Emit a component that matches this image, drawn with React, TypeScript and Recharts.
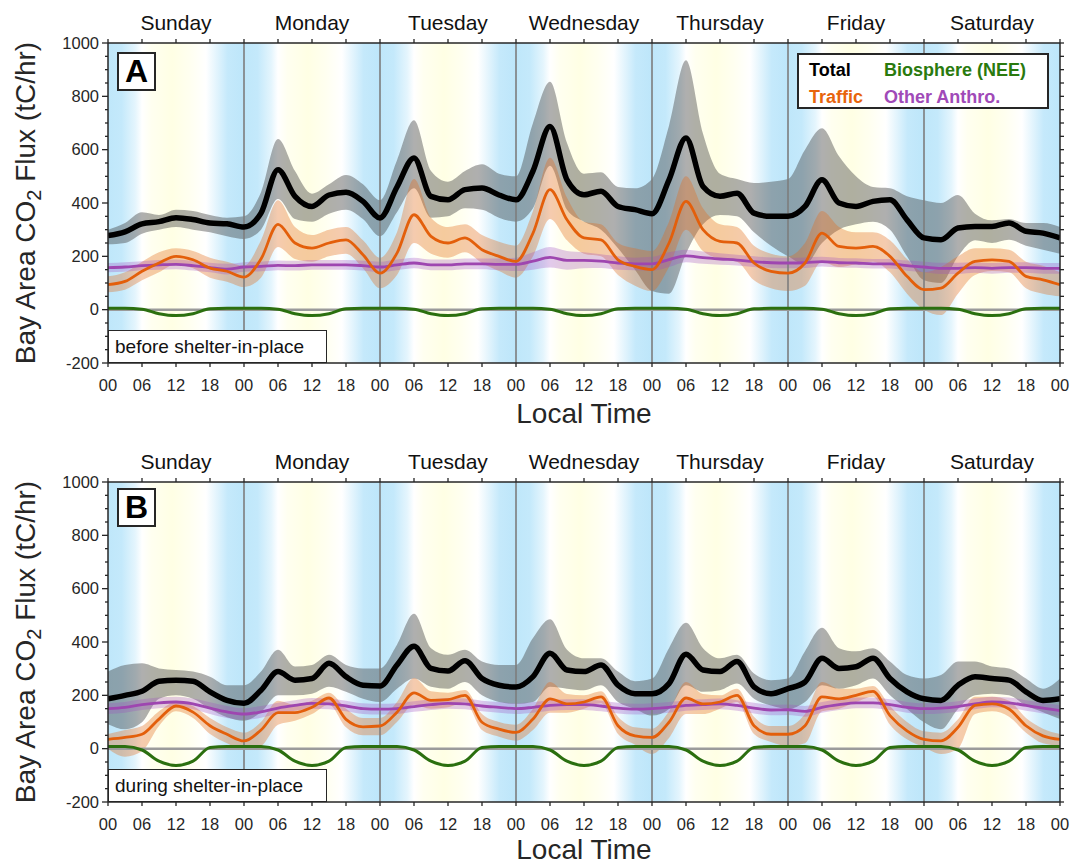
import React from 'react';
import { ComposedChart, Area, Line, XAxis, YAxis, ReferenceArea, ReferenceLine } from 'recharts';

// hours since Sunday 00 local time, every 3 h
const HOURS = [
  0, 3, 6, 9, 12, 15, 18, 21, 24, 27, 30, 33, 36, 39, 42, 45, 48, 51, 54, 57, 60, 63, 66, 69,
  72, 75, 78, 81, 84, 87, 90, 93, 96, 99, 102, 105, 108, 111, 114, 117, 120, 123, 126, 129,
  132, 135, 138, 141, 144, 147, 150, 153, 156, 159, 162, 165, 168,
];
const DAYS = ['Sunday', 'Monday', 'Tuesday', 'Wednesday', 'Thursday', 'Friday', 'Saturday'];
const DAY_BREAKS = [24, 48, 72, 96, 120, 144];
const X_TICKS = [
  0, 6, 12, 18, 24, 30, 36, 42, 48, 54, 60, 66, 72, 78, 84, 90, 96, 102, 108, 114, 120, 126,
  132, 138, 144, 150, 156, 162, 168,
];
const Y_TICKS = [
  -200, -150, -100, -50, 0, 50, 100, 150, 200, 250, 300, 350, 400, 450, 500, 550, 600, 650,
  700, 750, 800, 850, 900, 950, 1000,
];

// Panel A: before shelter-in-place (tC/hr)
const A_TOTAL = [278, 292, 322, 330, 345, 338, 325, 322, 310, 362, 525, 425, 387, 430, 440, 406, 344, 460, 569, 425, 412, 450, 456, 430, 412, 520, 687, 487, 431, 444, 387, 375, 360, 487, 644, 462, 425, 437, 362, 350, 350, 387, 487, 400, 387, 406, 412, 337, 269, 262, 306, 312, 312, 325, 294, 287, 269];
const A_TOTAL_HI = [300, 325, 365, 355, 375, 370, 355, 345, 350, 440, 640, 520, 435, 470, 505, 470, 410, 560, 710, 520, 480, 520, 545, 510, 500, 700, 855, 625, 510, 515, 460, 455, 490, 690, 935, 660, 510, 490, 475, 480, 490, 600, 680, 575, 500, 460, 455, 425, 410, 400, 430, 360, 335, 340, 325, 325, 310];
const A_TOTAL_LO = [245, 250, 285, 300, 310, 300, 290, 275, 265, 300, 415, 340, 330, 360, 375, 340, 275, 365, 455, 345, 350, 380, 375, 345, 330, 380, 540, 375, 330, 300, 230, 150, 70, 60, 210, 320, 355, 350, 290, 240, 200, 170, 250, 300, 320, 330, 300, 200, 110, 100, 200, 260, 250, 262, 240, 225, 210];
const A_TRAFFIC = [94, 106, 144, 175, 200, 187, 156, 144, 122, 190, 320, 250, 231, 250, 262, 206, 137, 212, 356, 275, 250, 269, 225, 200, 181, 287, 450, 337, 269, 262, 187, 162, 150, 250, 406, 300, 256, 250, 175, 144, 137, 175, 287, 237, 231, 237, 200, 125, 75, 81, 137, 181, 187, 181, 125, 112, 94];
const A_TRAFFIC_HI = [125, 140, 180, 215, 230, 220, 195, 180, 165, 260, 410, 310, 280, 300, 310, 260, 195, 290, 490, 345, 310, 320, 280, 255, 240, 370, 570, 420, 330, 320, 250, 230, 220, 330, 500, 380, 320, 310, 240, 210, 200, 250, 370, 310, 290, 290, 260, 190, 140, 160, 200, 230, 230, 225, 180, 165, 140];
const A_TRAFFIC_LO = [65, 75, 110, 140, 170, 155, 120, 105, 85, 120, 235, 190, 180, 200, 210, 155, 80, 130, 250, 210, 195, 215, 175, 145, 120, 200, 340, 260, 210, 200, 130, 90, 70, 160, 300, 220, 190, 180, 110, 80, 70, 90, 180, 160, 170, 180, 140, 60, 0, -20, 60, 130, 145, 140, 80, 60, 50];
const A_OTHER = [158, 160, 165, 168, 170, 165, 158, 152, 160, 162, 166, 165, 168, 168, 168, 165, 160, 168, 175, 168, 168, 172, 172, 170, 170, 182, 196, 185, 185, 182, 175, 172, 172, 188, 202, 195, 190, 186, 180, 176, 175, 176, 180, 176, 175, 172, 172, 165, 160, 155, 155, 158, 155, 158, 158, 155, 155];
const A_OTHER_HI = [175, 178, 182, 186, 188, 183, 176, 172, 178, 180, 184, 183, 186, 186, 186, 183, 180, 188, 195, 188, 188, 192, 192, 192, 195, 215, 235, 220, 215, 208, 200, 195, 198, 215, 225, 218, 212, 206, 200, 196, 195, 196, 198, 194, 193, 190, 190, 184, 180, 176, 176, 178, 175, 178, 178, 175, 175];
const A_OTHER_LO = [140, 142, 148, 150, 152, 147, 140, 132, 142, 144, 148, 147, 150, 150, 150, 147, 140, 148, 155, 148, 148, 152, 152, 148, 145, 150, 158, 150, 155, 156, 150, 148, 146, 160, 178, 172, 168, 166, 160, 156, 155, 156, 162, 158, 157, 154, 154, 146, 140, 134, 134, 138, 135, 138, 138, 135, 135];
const A_BIO = [5, 5, 2, -15, -22, -15, 3, 5, 5, 5, 2, -15, -22, -15, 3, 5, 5, 5, 2, -15, -22, -15, 3, 5, 5, 5, 2, -15, -22, -15, 3, 5, 5, 5, 2, -15, -22, -15, 3, 5, 5, 5, 2, -15, -22, -15, 3, 5, 5, 5, 2, -15, -22, -15, 3, 5, 5];

// Panel B: during shelter-in-place
const B_TOTAL = [187, 200, 215, 253, 257, 253, 213, 181, 170, 219, 289, 257, 263, 320, 270, 238, 235, 314, 384, 301, 291, 330, 263, 238, 231, 270, 358, 295, 289, 314, 238, 206, 206, 244, 354, 295, 289, 327, 232, 206, 225, 250, 339, 301, 307, 339, 263, 213, 187, 181, 238, 270, 263, 257, 213, 181, 187];
const B_TOTAL_HI = [289, 314, 320, 301, 295, 289, 270, 238, 238, 289, 371, 308, 314, 352, 314, 301, 301, 390, 506, 377, 352, 371, 327, 314, 314, 415, 485, 371, 339, 339, 289, 253, 263, 377, 472, 377, 339, 352, 282, 257, 263, 365, 453, 377, 365, 377, 327, 276, 263, 276, 327, 327, 308, 301, 263, 225, 263];
const B_TOTAL_LO = [92, 73, 99, 187, 200, 187, 149, 118, 105, 137, 200, 200, 206, 232, 213, 187, 175, 225, 263, 232, 225, 250, 200, 175, 168, 175, 232, 225, 219, 238, 175, 149, 124, 149, 238, 213, 219, 244, 187, 162, 149, 175, 238, 225, 238, 263, 200, 149, 99, 73, 149, 200, 206, 200, 162, 137, 111];
const B_TRAFFIC = [35, 42, 54, 111, 160, 137, 86, 54, 29, 70, 135, 135, 155, 190, 110, 82, 85, 137, 209, 181, 184, 200, 99, 73, 61, 111, 187, 168, 175, 194, 86, 48, 42, 99, 190, 168, 175, 200, 86, 54, 54, 86, 194, 187, 200, 215, 124, 67, 35, 29, 80, 162, 168, 149, 86, 48, 35];
const B_TRAFFIC_HI = [55, 70, 85, 140, 175, 160, 115, 80, 60, 100, 180, 165, 180, 210, 150, 115, 115, 175, 265, 215, 210, 220, 130, 100, 90, 150, 250, 205, 200, 215, 120, 80, 75, 140, 250, 205, 200, 225, 120, 85, 85, 130, 250, 225, 225, 235, 160, 100, 65, 60, 110, 195, 195, 180, 115, 75, 55];
const B_TRAFFIC_LO = [0, -30, -10, 85, 140, 115, 55, 20, -5, 10, 90, 105, 130, 165, 80, 50, 50, 100, 165, 150, 155, 175, 70, 45, 30, 70, 135, 135, 150, 170, 55, 15, -20, 40, 130, 130, 150, 175, 55, 25, 10, 20, 140, 150, 175, 195, 90, 35, 5, -20, 0, 130, 140, 120, 60, 20, 10];
const B_OTHER = [150, 155, 165, 172, 175, 168, 152, 138, 130, 138, 152, 162, 170, 168, 160, 150, 148, 150, 158, 165, 170, 168, 160, 155, 150, 155, 162, 165, 165, 160, 152, 148, 150, 155, 162, 165, 168, 162, 152, 145, 146, 140, 155, 165, 172, 172, 165, 155, 150, 152, 158, 168, 175, 172, 162, 152, 143];
const B_OTHER_HI = [170, 175, 185, 192, 195, 188, 174, 160, 152, 160, 172, 182, 190, 188, 180, 170, 168, 170, 178, 185, 190, 188, 180, 175, 170, 175, 182, 185, 185, 180, 172, 168, 170, 175, 182, 185, 188, 182, 172, 165, 166, 160, 175, 185, 192, 192, 185, 175, 170, 172, 178, 188, 195, 192, 182, 172, 163];
const B_OTHER_LO = [130, 135, 145, 152, 155, 148, 130, 115, 108, 116, 132, 142, 150, 148, 140, 130, 128, 130, 138, 145, 150, 148, 140, 135, 130, 135, 142, 145, 145, 140, 132, 128, 130, 135, 142, 145, 148, 142, 132, 125, 126, 120, 135, 145, 152, 152, 145, 135, 130, 132, 138, 148, 155, 152, 142, 132, 123];
const B_BIO = [8, 8, -5, -47, -63, -47, 4, 8, 8, 8, -5, -47, -63, -47, 4, 8, 8, 8, -5, -47, -63, -47, 4, 8, 8, 8, -5, -47, -63, -47, 4, 8, 8, 8, -5, -47, -63, -47, 4, 8, 8, 8, -5, -47, -63, -47, 4, 8, 8, 8, -5, -47, -63, -47, 4, 8, 8];

// day/night shading inside each day
const BG_STOPS = [
  { o: 0, c: '#bfe7fa' },
  { o: 0.1, c: '#c4e9fb' },
  { o: 0.2, c: '#e4f5fd' },
  { o: 0.25, c: '#ffffff' },
  { o: 0.32, c: '#fffff0' },
  { o: 0.47, c: '#ffffe4' },
  { o: 0.6, c: '#fffff0' },
  { o: 0.72, c: '#ffffff' },
  { o: 0.8, c: '#e2f4fd' },
  { o: 0.88, c: '#c5e9fb' },
  { o: 1, c: '#bde6fa' },
];

const FONT = '"Liberation Sans", Arial, Helvetica, sans-serif';
const AXIS = '#262626';
const PLOT_LEFT = 108;
const PLOT_RIGHT = 1060;

const buildRows = (
  total: number[], totalLo: number[], totalHi: number[],
  traffic: number[], trafficLo: number[], trafficHi: number[],
  other: number[], otherLo: number[], otherHi: number[],
  bio: number[]
) =>
  HOURS.map((h, i) => ({
    h,
    total: total[i],
    totalBand: [totalLo[i], totalHi[i]],
    traffic: traffic[i],
    trafficBand: [trafficLo[i], trafficHi[i]],
    other: other[i],
    otherBand: [otherLo[i], otherHi[i]],
    bio: bio[i],
  }));

const rowsA = buildRows(A_TOTAL, A_TOTAL_LO, A_TOTAL_HI, A_TRAFFIC, A_TRAFFIC_LO, A_TRAFFIC_HI, A_OTHER, A_OTHER_LO, A_OTHER_HI, A_BIO);
const rowsB = buildRows(B_TOTAL, B_TOTAL_LO, B_TOTAL_HI, B_TRAFFIC, B_TRAFFIC_LO, B_TRAFFIC_HI, B_OTHER, B_OTHER_LO, B_OTHER_HI, B_BIO);

// major ticks with labels every 200, minor ticks every 50
const LeftTick = (props: any) => {
  const { y, payload } = props;
  const v = payload.value;
  const major = v % 200 === 0;
  return (
    <g>
      <line x1={PLOT_LEFT - (major ? 6 : 3)} x2={PLOT_LEFT} y1={y} y2={y} stroke={AXIS} strokeWidth={1.3} />
      {major && (
        <text x={PLOT_LEFT - 9} y={y} dy="0.35em" textAnchor="end" fontSize={16.5} fill={AXIS} fontFamily={FONT}>
          {v}
        </text>
      )}
    </g>
  );
};

const RightTick = (props: any) => (
  <line x1={PLOT_RIGHT} x2={PLOT_RIGHT + 4} y1={props.y} y2={props.y} stroke={AXIS} strokeWidth={1.3} />
);

const hourLabel = (h: number) => String(h % 24).padStart(2, '0');
const dayLabel = (h: number) => (h % 24 === 12 ? DAYS[Math.floor(h / 24)] : '');

interface PanelProps {
  id: string;
  rows: any[];
  height: number;
  labelTop: number;
  titleTop: number;
  note: string;
  legend?: boolean;
}

const Panel: React.FC<PanelProps> = ({ id, rows, height, labelTop, titleTop, note, legend }) => {
  return (
    <div style={{ position: 'relative', width: 1070, height }}>
      <ComposedChart
        width={1070}
        height={height}
        data={rows}
        margin={{ top: 13, right: 0, bottom: height - 363 - 30, left: 48 }}
      >
        <defs>
          <linearGradient id={`bg${id}`} x1="0" y1="0" x2="1" y2="0">
            {BG_STOPS.map((s) => (
              <stop key={s.o} offset={s.o} stopColor={s.c} />
            ))}
          </linearGradient>
        </defs>
        <XAxis
          xAxisId="top"
          orientation="top"
          dataKey="h"
          type="number"
          domain={[0, 168]}
          allowDataOverflow
          ticks={X_TICKS}
          interval={0}
          tickFormatter={dayLabel}
          height={30}
          tickSize={4}
          tickMargin={9}
          axisLine={{ stroke: AXIS, strokeWidth: 1.5 }}
          tickLine={{ stroke: AXIS, strokeWidth: 1.3 }}
          tick={{ fill: '#111', fontSize: 21, fontFamily: FONT }}
        />
        <XAxis
          dataKey="h"
          type="number"
          domain={[0, 168]}
          allowDataOverflow
          ticks={X_TICKS}
          interval={0}
          tickFormatter={hourLabel}
          height={30}
          tickSize={4}
          tickMargin={12}
          axisLine={{ stroke: AXIS, strokeWidth: 1.5 }}
          tickLine={{ stroke: AXIS, strokeWidth: 1.3 }}
          tick={{ fill: AXIS, fontSize: 16.5, fontFamily: FONT }}
        />
        <YAxis
          type="number"
          domain={[-200, 1000]}
          allowDataOverflow
          ticks={Y_TICKS}
          interval={0}
          width={60}
          tickLine={false}
          axisLine={{ stroke: AXIS, strokeWidth: 1.5 }}
          tick={<LeftTick />}
        />
        <YAxis
          yAxisId="right"
          orientation="right"
          type="number"
          domain={[-200, 1000]}
          allowDataOverflow
          ticks={Y_TICKS}
          interval={0}
          width={10}
          tickLine={false}
          tick={<RightTick />}
          axisLine={{ stroke: AXIS, strokeWidth: 1.5 }}
        />
        {DAYS.map((d, i) => (
          <ReferenceArea
            key={d}
            x1={i * 24}
            x2={i * 24 + 24}
            y1={-200}
            y2={1000}
            fill={`url(#bg${id})`}
            fillOpacity={1}
            stroke="none"
          />
        ))}
        {DAY_BREAKS.map((x) => (
          <ReferenceLine key={x} x={x} stroke="#7d7d7d" strokeWidth={1.6} />
        ))}
        <ReferenceLine y={0} stroke="#9b9b9b" strokeWidth={2.5} />
        <Area type="monotone" dataKey="totalBand" stroke="none" fill="#404040" fillOpacity={0.42} isAnimationActive={false} activeDot={false} />
        <Area type="monotone" dataKey="trafficBand" stroke="none" fill="#e36a1a" fillOpacity={0.35} isAnimationActive={false} activeDot={false} />
        <Area type="monotone" dataKey="otherBand" stroke="none" fill="#a050c0" fillOpacity={0.3} isAnimationActive={false} activeDot={false} />
        <Line type="monotone" dataKey="bio" stroke="#2b6f0f" strokeWidth={3} dot={false} isAnimationActive={false} />
        <Line type="monotone" dataKey="other" stroke="#9e46b0" strokeWidth={2.8} dot={false} isAnimationActive={false} />
        <Line type="monotone" dataKey="traffic" stroke="#e35f0b" strokeWidth={2.8} dot={false} isAnimationActive={false} />
        <Line type="monotone" dataKey="total" stroke="#000000" strokeWidth={5.5} dot={false} isAnimationActive={false} />
      </ComposedChart>

      <div
        style={{
          position: 'absolute', left: 28, top: 203, transform: 'translate(-50%, -50%) rotate(-90deg)',
          whiteSpace: 'nowrap', fontSize: 28, color: AXIS, lineHeight: 1,
        }}
      >
        Bay Area CO<sub style={{ fontSize: 20, verticalAlign: '-0.3em' }}>2</sub> Flux (tC/hr)
      </div>
      <div
        style={{
          position: 'absolute', left: 584, top: titleTop, transform: 'translateX(-50%)',
          whiteSpace: 'nowrap', fontSize: 28, color: AXIS, lineHeight: 0.8,
        }}
      >
        Local Time
      </div>
      <div
        style={{
          position: 'absolute', left: 117, top: labelTop, width: 39, height: 39, boxSizing: 'border-box',
          border: `2px solid ${AXIS}`, background: '#fff', display: 'flex', alignItems: 'center',
          justifyContent: 'center', fontSize: 32, fontWeight: 'bold', color: '#000',
        }}
      >
        {id}
      </div>
      <div
        style={{
          position: 'absolute', left: 108, top: 330, width: 219, height: 33, boxSizing: 'border-box',
          border: `1.5px solid ${AXIS}`, background: '#fff', fontSize: 19, color: '#111',
          paddingLeft: 6, lineHeight: '31px', whiteSpace: 'nowrap',
        }}
      >
        {note}
      </div>
      {legend && (
        <div
          style={{
            position: 'absolute', left: 797, top: 53, width: 252, height: 56, boxSizing: 'border-box',
            border: `2px solid ${AXIS}`, background: '#fff', fontSize: 18, fontWeight: 'bold',
            whiteSpace: 'nowrap', lineHeight: 1,
          }}
        >
          <span style={{ position: 'absolute', left: 10, top: 6, color: '#000' }}>Total</span>
          <span style={{ position: 'absolute', left: 85, top: 6, color: '#2a7a0e' }}>Biosphere (NEE)</span>
          <span style={{ position: 'absolute', left: 10, top: 33, color: '#e8650c' }}>Traffic</span>
          <span style={{ position: 'absolute', left: 85, top: 33, color: '#a04ab8' }}>Other Anthro.</span>
        </div>
      )}
    </div>
  );
};

const App: React.FC = () => {
  return (
    <div style={{ position: 'absolute', left: 0, top: 0, width: 1070, height: 863, background: '#fff', fontFamily: FONT }}>
      <Panel id="A" rows={rowsA} height={439} labelTop={52} titleTop={403} note="before shelter-in-place" legend />
      <Panel id="B" rows={rowsB} height={424} labelTop={49} titleTop={400} note="during shelter-in-place" />
    </div>
  );
};

export default App;
